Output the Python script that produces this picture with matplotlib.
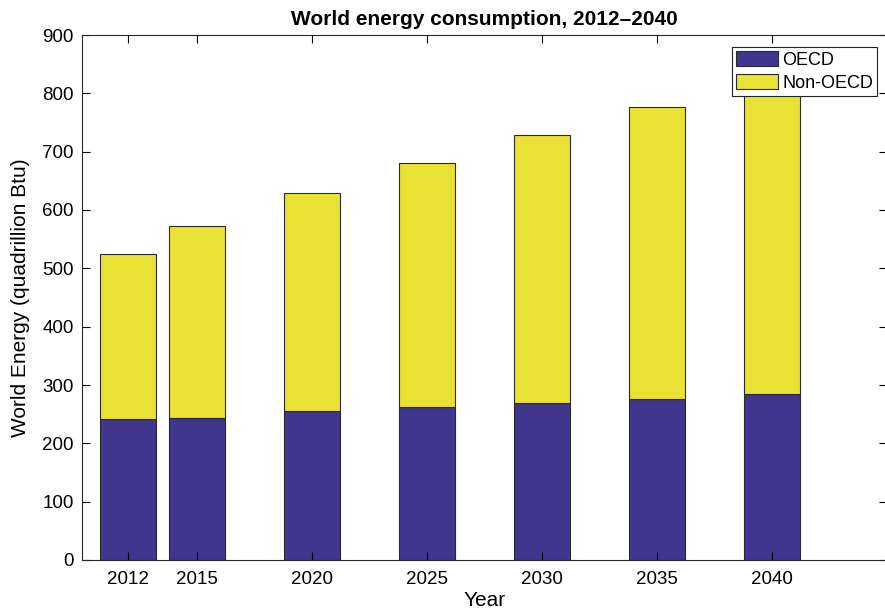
import numpy as np
import matplotlib.pyplot as plt

plt.rcParams['font.family'] = ['Liberation Sans', 'DejaVu Sans']

years = [2012, 2015, 2020, 2025, 2030, 2035, 2040]
oecd = [242, 244, 255, 263, 269, 276, 285]
non_oecd = [282, 328, 375, 418, 460, 501, 530]

fig = plt.figure(figsize=(8.85, 6.12), dpi=100)
ax = fig.add_axes([82 / 885, 1 - 560 / 612, 805 / 885, 525 / 612])

ax.bar(years, oecd, width=2.4, color='#40358F', edgecolor='#2a2a2a', linewidth=0.8, label='OECD')
ax.bar(years, non_oecd, width=2.4, bottom=oecd, color='#E9E134', edgecolor='#2a2a2a',
       linewidth=0.8, label='Non-OECD')

ax.set_xlim(2010, 2045)
ax.set_ylim(0, 900)
ax.set_xticks(years)
ax.set_yticks(np.arange(0, 901, 100))
ax.tick_params(direction='in', top=True, right=True, labelsize=13.5, length=6, width=0.8, pad=6)
ax.tick_params(axis='x', pad=8)
for s in ax.spines.values():
    s.set_linewidth(0.8)
    s.set_color('#262626')

ax.set_title('World energy consumption, 2012\u20132040', fontsize=15, fontweight='bold', pad=7)
ax.set_ylabel('World Energy (quadrillion Btu)', fontsize=15, labelpad=9)
ax.set_xlabel('Year', fontsize=15, labelpad=2)

leg = ax.legend(loc='upper right', bbox_to_anchor=(0.988, 0.977), fontsize=13, fancybox=False,
                framealpha=1, edgecolor='#222222', borderpad=0.22, handlelength=2.3,
                handleheight=0.9, handletextpad=0.25, labelspacing=0.3, borderaxespad=0)
leg.get_frame().set_linewidth(0.8)

fig.savefig('out.png', dpi=100)
